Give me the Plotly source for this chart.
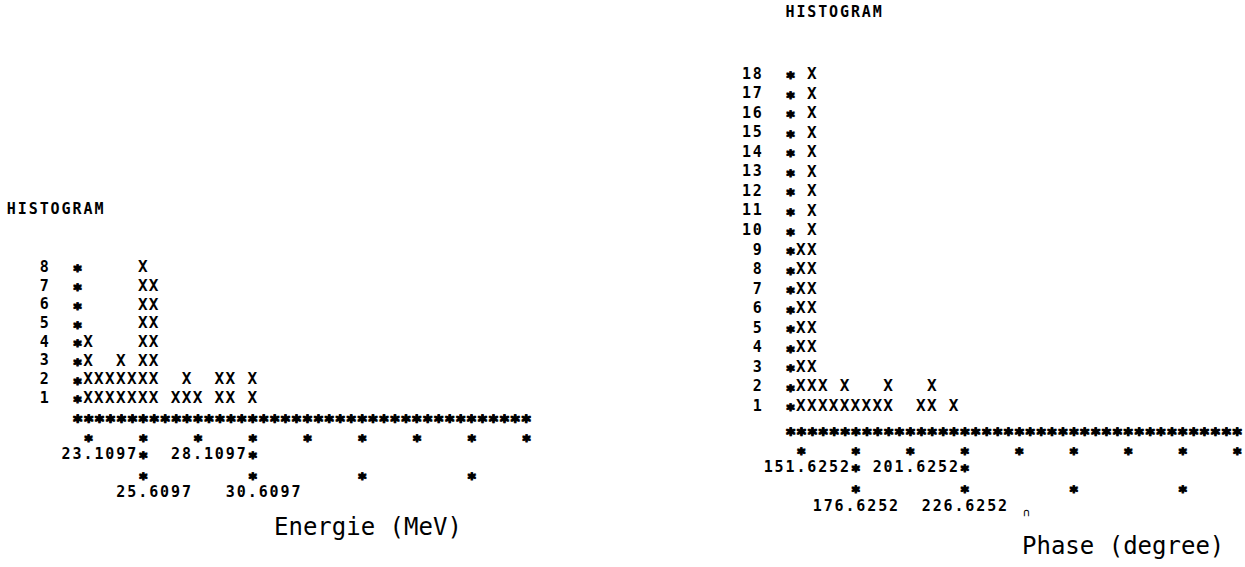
import plotly.graph_objects as go

# Energy histogram: number of events per printer column (column 1 first)
energie_counts = [4, 2, 2, 3, 2, 8, 7, 0, 1, 2, 1, 0, 2, 2, 0, 2]
energie_ticks_upper = ["23.1097", "28.1097"]
energie_ticks_lower = ["25.6097", "30.6097"]

# Phase histogram: number of events per printer column (column 1 first)
phase_counts = [9, 18, 2, 1, 2, 1, 1, 1, 2, 0, 0, 1, 2, 0, 1]
phase_ticks_upper = ["151.6252", "201.6252"]
phase_ticks_lower = ["176.6252", "226.6252"]

FONT = "DejaVu Sans Mono"
W, H = 1245, 567
ADVANCE = 0.602  # monospace advance width, in em
HEAVY = "1px 0px 0px black, 0px 1px 0px black, 1px 1px 0px black"

AXIS_COLS = list(range(0, 42))
TICK_COLS = list(range(1, 42, 5))
LABEL_STAR_COLS = [6, 16]
MID_STAR_COLS = [6, 16, 26, 36]

fig = go.Figure()


def add_chars(xs, ys, chars, size, xa, ya, bold=True, shadow="none"):
    fig.add_trace(go.Scatter(
        x=xs, y=ys, mode="text", text=chars, textposition="middle center",
        textfont=dict(family=FONT, size=size, color="black",
                      weight="bold" if bold else "normal", shadow=shadow),
        xaxis=xa, yaxis=ya, hoverinfo="skip", showlegend=False,
        cliponaxis=False))


def spell(s, col, row, xs, ys, cs):
    for i, ch in enumerate(s):
        if ch != " ":
            xs.append(col + i)
            ys.append(row)
            cs.append(ch)


def panel(counts, upper, lower, lower_cols, rows, row_px, col_px, head_col,
          title, title_col, xa, ya):
    # '*' sits high in its glyph box; lower it so it is centred on the row
    def drop(size):
        return 0.27 * size / row_px

    # bars of X characters
    bx, by = [], []
    for col, n in enumerate(counts, start=1):
        for level in range(1, n + 1):
            bx.append(col)
            by.append(level)
    add_chars(bx, by, ["X"] * len(bx), 16, xa, ya)

    top = max(counts)
    levels = list(range(1, top + 1))

    # frequency labels, right-aligned three columns left of the axis stars
    tx, ty, tc = [], [], []
    for level in levels:
        s = str(level)
        spell(s, -3 - (len(s) - 1), level, tx, ty, tc)
    # heading
    spell("HISTOGRAM", head_col, rows["head"], tx, ty, tc)
    # value labels
    for lab, sc in zip(upper, LABEL_STAR_COLS):
        spell(lab, sc - len(lab), rows["upper"], tx, ty, tc)
    for lab, lc in zip(lower, lower_cols):
        spell(lab, lc, rows["lower"], tx, ty, tc)
    add_chars(tx, ty, tc, 15, xa, ya)

    # stars: left edge of each row, tick marks
    star_size = 16
    d = drop(star_size)
    sx, sy = [], []
    for level in levels:
        sx.append(0)
        sy.append(level - d)
    for c in TICK_COLS:
        sx.append(c)
        sy.append(rows["tick"] - d)
    for c in LABEL_STAR_COLS:
        sx.append(c)
        sy.append(rows["upper"] - d)
    for c in MID_STAR_COLS:
        sx.append(c)
        sy.append(rows["mid"] - d)
    add_chars(sx, sy, ["*"] * len(sx), star_size, xa, ya, shadow=HEAVY)

    # scale band: one string of stars, one per column
    band_size = col_px / ADVANCE
    band_mid = (AXIS_COLS[0] + AXIS_COLS[-1]) / 2
    add_chars([band_mid], [rows["axis"] - drop(band_size)],
              ["*" * len(AXIS_COLS)], band_size, xa, ya, shadow=HEAVY)

    fig.add_annotation(x=title_col, y=rows["title"], xref=xa, yref=ya,
                       text=title, showarrow=False, xanchor="left",
                       yanchor="middle",
                       font=dict(family=FONT, size=24, color="black"))


# left panel: column 0 at x=77 px, 10.95 px per column; level 1 at y=399 px
left_rows = dict(axis=0.0, tick=-1.05, upper=-2.0, mid=-3.1, lower=-4.05,
                 title=-5.85, head=11.1)
panel(energie_counts, energie_ticks_upper, energie_ticks_lower, [4, 14],
      left_rows, 18.7, 10.95, -6, "Energie (MeV)", 17.8, "x", "y")

# right panel: column 0 at x=790 px, 10.9 px per column; level 1 at y=407 px
right_rows = dict(axis=-0.2, tick=-1.25, upper=-2.12, mid=-3.2, lower=-4.15,
                  title=-6.1, head=21.15)
panel(phase_counts, phase_ticks_upper, phase_ticks_lower, [2.5, 12.5],
      right_rows, 19.53, 10.9, 0, "Phase (degree)", 21.1, "x2", "y2")

# small stray plotter mark after the last phase label
fig.add_annotation(x=21.7, y=-4.4, xref="x2", yref="y2", text="\u2229",
                   showarrow=False, font=dict(family=FONT, size=11,
                                              color="black"))

split = 0.5
left_range_x = [(0 - 77) / 10.95, (W * split - 77) / 10.95]
left_range_y = [1 + (399 - H) / 18.7, 1 + 399 / 18.7]
right_range_x = [(W * split - 790) / 10.9, (W - 790) / 10.9]
right_range_y = [1 + (407 - H) / 19.53, 1 + 407 / 19.53]

hidden = dict(visible=False, fixedrange=True)
fig.update_layout(
    width=W, height=H,
    margin=dict(l=0, r=0, t=0, b=0),
    paper_bgcolor="white", plot_bgcolor="white",
    xaxis=dict(domain=[0, split], range=left_range_x, anchor="y", **hidden),
    yaxis=dict(domain=[0, 1], range=left_range_y, anchor="x", **hidden),
    xaxis2=dict(domain=[split, 1], range=right_range_x, anchor="y2", **hidden),
    yaxis2=dict(domain=[0, 1], range=right_range_y, anchor="x2", **hidden),
)

fig.write_html("out.html")
